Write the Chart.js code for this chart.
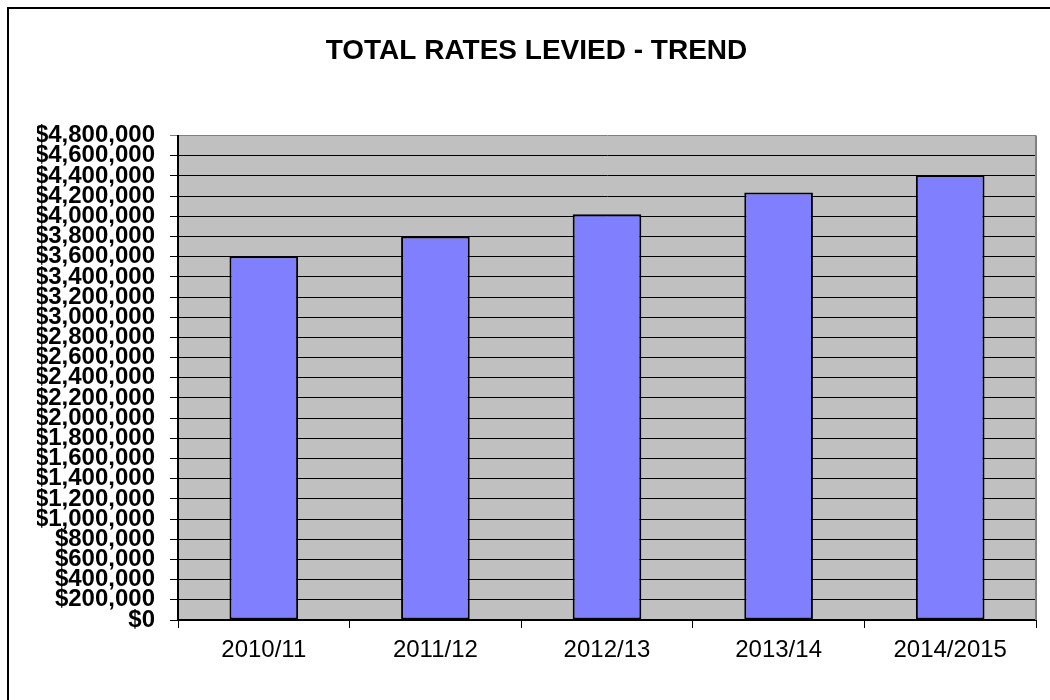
<!DOCTYPE html>
<html>
<head>
<meta charset="utf-8">
<title>Total Rates Levied - Trend</title>
<script src="https://cdn.jsdelivr.net/npm/chart.js@4.4.1/dist/chart.umd.min.js"></script>
<style>
    html, body { margin: 0; padding: 0; background: #fff; overflow: hidden; }
    #wrap { position: relative; width: 1050px; height: 700px; }
    #frame {
        position: absolute; left: 7px; top: 7px; width: 1100px; height: 760px;
        border-left: 2px solid #000; border-top: 2px solid #000; pointer-events: none;
    }
</style>
</head>
<body>
<div id="wrap">
    <canvas id="ratesChart"></canvas>
    <div id="frame"></div>
</div>
<script>
// Chart data
const categories = ['2010/11', '2011/12', '2012/13', '2013/14', '2014/2015'];
const ratesLevied = [3605000, 3800000, 4020000, 4235000, 4410000];
const yMin = 0;
const yMax = 4800000;
const yStep = 200000;
const chartTitle = 'TOTAL RATES LEVIED - TREND';

const fontFamily = "'Liberation Sans', Arial, sans-serif";

// Format axis value as dollars
function formatDollars(value) {
    return '$' + Number(value).toLocaleString('en-US');
}

// Grey plot background and right-hand border
const plotBackground = {
    id: 'plotBackground',
    beforeDraw(chart) {
        const { ctx, chartArea } = chart;
        ctx.save();
        ctx.fillStyle = '#c0c0c0';
        ctx.fillRect(chartArea.left, chartArea.top, chartArea.right - chartArea.left, chartArea.bottom - chartArea.top);
        ctx.restore();
    },
    afterDraw(chart) {
        const { ctx, chartArea } = chart;
        ctx.save();
        ctx.strokeStyle = '#808080';
        ctx.lineWidth = 2;
        ctx.beginPath();
        ctx.moveTo(chartArea.right, chartArea.top);
        ctx.lineTo(chartArea.right, chartArea.bottom);
        ctx.stroke();
        ctx.restore();
    }
};

const ctx = document.getElementById('ratesChart').getContext('2d');
const ratesChart = new Chart(ctx, {
    type: 'bar',
    data: {
        labels: categories,
        datasets: [{
            label: 'Total Rates Levied',
            data: ratesLevied,
            backgroundColor: '#8080ff',
            borderColor: '#000000',
            borderWidth: 2,
            borderSkipped: false,
            barPercentage: 0.4,
            categoryPercentage: 1.0
        }]
    },
    options: {
        responsive: true,
        maintainAspectRatio: false,
        animation: false,
        layout: {
            padding: { left: 37, right: 14, top: 0, bottom: 0 }
        },
        plugins: {
            legend: { display: false },
            tooltip: { enabled: false },
            title: {
                display: true,
                text: chartTitle,
                color: '#000',
                font: { family: fontFamily, size: 28, weight: 'bold' },
                padding: { top: 34, bottom: 68 }
            }
        },
        scales: {
            x: {
                grid: {
                    drawOnChartArea: false,
                    color: '#000',
                    tickLength: 8
                },
                border: { color: '#000', width: 2 },
                ticks: {
                    color: '#000',
                    padding: 8,
                    font: { family: fontFamily, size: 24 }
                },
                afterFit(scale) {
                    scale.height = 80;
                }
            },
            y: {
                min: yMin,
                max: yMax,
                grid: {
                    color: (c) => (c.tick && c.tick.value === yMax) ? '#808080' : '#000',
                    lineWidth: 1,
                    tickLength: 8
                },
                border: { color: '#000', width: 2 },
                ticks: {
                    stepSize: yStep,
                    autoSkip: false,
                    color: '#000',
                    padding: 15,
                    font: { family: fontFamily, size: 24, weight: 'bold' },
                    callback: (value) => formatDollars(value)
                },
                afterFit(scale) {
                    scale.width = 141;
                }
            }
        }
    },
    plugins: [plotBackground]
});
</script>
</body>
</html>
